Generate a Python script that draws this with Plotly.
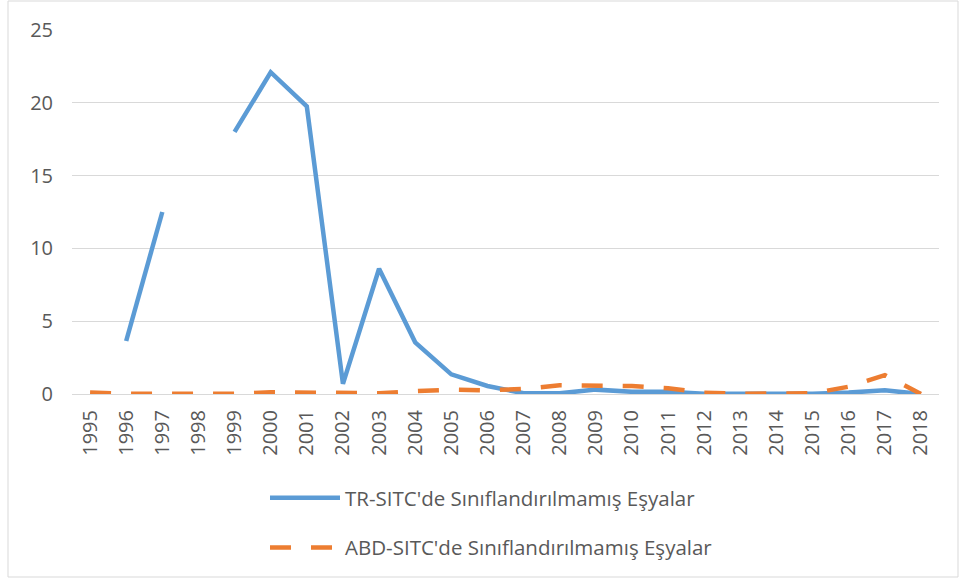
import plotly.graph_objects as go

years = [str(y) for y in range(1995, 2019)]
tr_values = [None, 3.64, 12.5, None, 18.0, 22.1, 19.75, 0.7, 8.6, 3.55, 1.35, 0.55,
             0.05, 0.05, 0.3, 0.15, 0.15, 0.02, 0.02, 0.02, 0.02, 0.1, 0.25, 0.0]
abd_values = [0.1, 0.02, 0.02, 0.02, 0.02, 0.12, 0.1, 0.05, 0.05, 0.2, 0.3, 0.25,
              0.35, 0.6, 0.6, 0.55, 0.4, 0.08, 0.02, 0.02, 0.05, 0.5, 1.3, 0.0]
tr_name = "TR-SITC'de Sınıflandırılmamış Eşyalar"
abd_name = "ABD-SITC'de Sınıflandırılmamış Eşyalar"
y_ticks = [0, 5, 10, 15, 20, 25]

FONT = "Open Sans"
TXT = "#595959"
GRID = "#d9d9d9"

fig = go.Figure()
fig.add_trace(go.Scatter(x=years, y=tr_values, name=tr_name, mode="lines",
                         connectgaps=False, legendgroup="a",
                         line=dict(color="#5B9BD5", width=4.5)))
fig.add_trace(go.Scatter(x=years, y=abd_values, name=abd_name, mode="lines",
                         legendgroup="b",
                         line=dict(color="#ED7D31", width=4.5, dash="21px,20px")))

W, H = 961, 578
L, R, T, B = 72, 22, 30, 184
pw, ph = W - L - R, H - T - B

def px_x(x):
    return (x - L) / pw

def px_y(y):
    return (H - B - y) / ph

fig.add_shape(type="rect", xref="paper", yref="paper",
              x0=px_x(8), x1=px_x(958), y0=px_y(577), y1=px_y(1),
              line=dict(color=GRID, width=1), fillcolor="rgba(0,0,0,0)", layer="below")

fig.update_layout(
    width=W, height=H,
    margin=dict(l=L, r=R, t=T, b=B, autoexpand=False),
    plot_bgcolor="white", paper_bgcolor="white",
    font=dict(family=FONT, color=TXT, size=20),
    xaxis=dict(type="category", range=[-0.5, 23.5], showgrid=False,
               showline=True, linecolor=GRID, linewidth=1,
               tickangle=-90, tickfont=dict(size=20, color=TXT),
               ticks="", ticklabelstandoff=7),
    yaxis=dict(range=[0, 25], tickvals=y_ticks, showgrid=True, gridcolor=GRID,
               gridwidth=1, zeroline=True, zerolinecolor=GRID, zerolinewidth=1,
               showline=False, ticks="", tickfont=dict(size=20, color=TXT),
               ticklabelstandoff=18),
    legend=dict(orientation="v", x=px_x(265), xanchor="left", y=px_y(478),
                yanchor="top", font=dict(size=20.5, color=TXT),
                tracegroupgap=20, itemwidth=70, bgcolor="rgba(0,0,0,0)"),
    showlegend=True,
)

fig.write_html("out.html", config={"displayModeBar": False},
               post_script="document.body.style.margin='0';document.body.style.overflow='hidden';")
